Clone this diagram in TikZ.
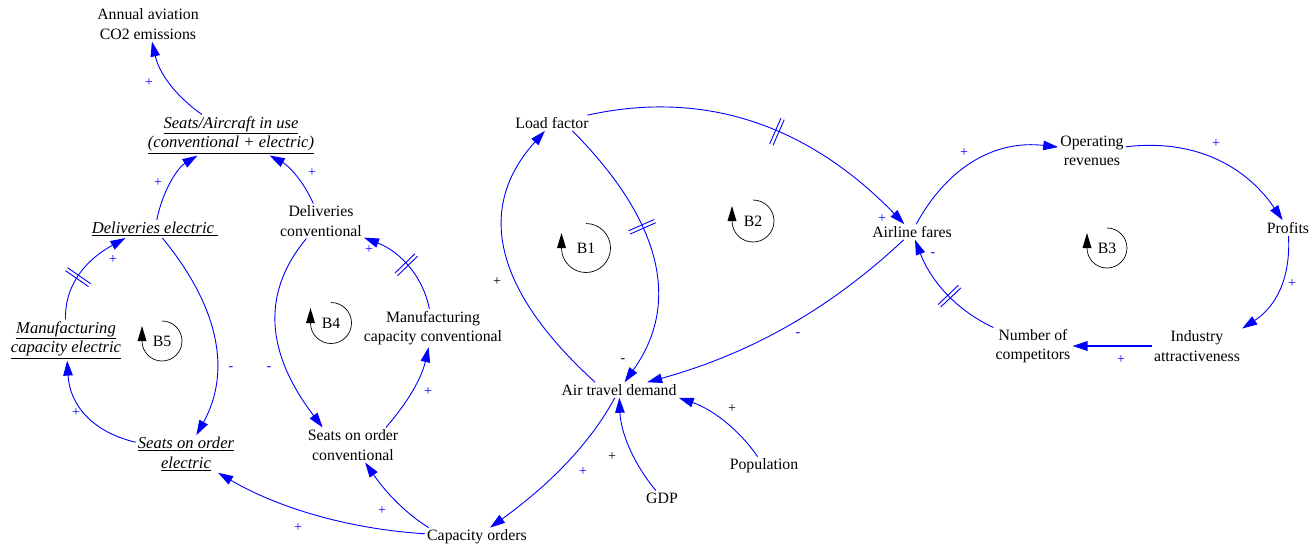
\documentclass[tikz,border=0pt]{standalone}
\usepackage{fontspec}
\setmainfont{Liberation Serif}
\usetikzlibrary{arrows.meta,decorations.markings,calc}
\definecolor{linkblue}{RGB}{0,0,255}

% loop marker: name, centre, radius, text
\newcommand\loopsign[4]{%
  \node[looptext] (#1) at (#2) {#4};
  \draw[line width=0.7pt] ($(#1)+(0,#3)$) arc[start angle=90,end angle=-180,radius=#3];
  \fill ($(#1)+(-#3-4.5,0)$) -- ($(#1)+(-#3+4.5,0)$) -- ($(#1)+(-#3,15)$) -- cycle;
}

\begin{document}
\begin{tikzpicture}[x=1pt,y=1pt,
  every node/.style={font=\fontsize{15.8}{19.5}\selectfont, inner sep=2pt, align=center},
  looptext/.style={inner sep=0pt},
  link/.style={draw=linkblue, line width=0.9pt, -{Triangle[length=15pt,width=9.5pt]}},
  delaymark/.style={postaction={decorate, decoration={markings,
      mark=at position #1 with {\draw[-, linkblue, line width=0.9pt]
        (-1.8pt,-14pt) -- (-1.8pt,14pt) (1.8pt,-14pt) -- (1.8pt,14pt);}}}},
  pol/.style={font=\fontsize{14}{16}\selectfont, text=linkblue, inner sep=0pt},
  polk/.style={pol, text=black},
  uvar/.style={font=\fontsize{16.6}{19.5}\selectfont\itshape}
]
\useasboundingbox (0,0) rectangle (1312,-546);

% variables
\node (co2) at (148,-24) {Annual aviation\\CO2 emissions};
\node[uvar] (seats) at (231,-135) {\underline{Seats/Aircraft in use}\\\underline{(conventional + electric)}};
\node[uvar] (delel) at (155,-229) {\underline{Deliveries electric\ }};
\node (delconv) at (321,-221) {Deliveries\\conventional};
\node[uvar] (mfgel) at (66,-340) {\underline{Manufacturing}\\\underline{capacity electric}};
\node (mfgconv) at (433,-328) {Manufacturing\\capacity conventional};
\node[uvar] (soel) at (186,-454) {\underline{Seats on order}\\\underline{electric}};
\node (soconv) at (353,-445) {Seats on order\\conventional};
\node (cap) at (477,-537) {Capacity orders};
\node (lf) at (552,-123) {Load factor};
\node (atd) at (619,-390) {Air travel demand};
\node (gdp) at (662,-498) {GDP};
\node (pop) at (764,-466) {Population};
\node (fares) at (912,-232) {Airline fares};
\node (oprev) at (1092,-151) {Operating\\revenues};
\node (profits) at (1288,-228) {Profits};
\node (ind) at (1197,-346) {Industry\\attractiveness};
\node (comp) at (1033,-346) {Number of\\competitors};

% causal links
\draw[link] (seats) .. controls (173.3,-94.3) and (158.7,-71.3) .. (co2);
\draw[link] (delel) .. controls (163,-189) and (178.3,-167.3) .. (seats);
\draw[link] (delconv) .. controls (304,-182.3) and (289.3,-166) .. (seats);
\draw[link, delaymark=0.42] (mfgel) .. controls (64.7,-287.7) and (82.3,-262) .. (delel.197);
\draw[link] (delel) .. controls (220.7,-309) and (230.7,-373) .. (soel);
\draw[link] (soel) .. controls (92,-432) and (69.7,-404.7) .. (mfgel);
\draw[link] (delconv) .. controls (260.7,-293.3) and (266,-353) .. (soconv.150);
\draw[link] (soconv.28) .. controls (408.3,-401.7) and (421.7,-377.7) .. (mfgconv);
\draw[link, delaymark=0.5] (mfgconv) .. controls (423.3,-277.3) and (401,-252) .. (delconv);
\draw[link] (cap) .. controls (348.7,-529) and (278.3,-508) .. (soel);
\draw[link] (cap.169) .. controls (411.3,-517) and (390,-498.3) .. (soconv);
\draw[link] (atd) .. controls (591.7,-440.7) and (553,-482.3) .. (cap);
\draw[link] (atd.162) .. controls (492.7,-289) and (476,-207.3) .. (lf);
\draw[link, delaymark=0.42] (lf.-21) .. controls (664,-223.3) and (680,-304.7) .. (atd);
\draw[link, delaymark=0.55] (lf) .. controls (705.7,-89) and (809.3,-126) .. (fares);
\draw[link] (fares) .. controls (829.5,-309.4) and (749.5,-354.1) .. (atd);
\draw[link] (gdp) .. controls (631.7,-461.3) and (620.7,-431) .. (atd);
\draw[link] (pop) .. controls (737.7,-427.7) and (710.7,-408.7) .. (atd.south east);
\draw[link] (fares) .. controls (948.2,-165.6) and (995.9,-139.9) .. (oprev);
\draw[link] (oprev) .. controls (1191.5,-138.7) and (1244.2,-163.7) .. (profits);
\draw[link] (profits) .. controls (1290.9,-278.3) and (1275.9,-306.7) .. (ind.north east);
\draw[link, line width=1.4pt] (ind) -- (comp);
\draw[link, delaymark=0.45] (comp) .. controls (956.9,-310.5) and (931.3,-281.9) .. (fares);

% polarities
\node[pol] (p1) at (149,-83) {+};
\node[pol] (p2) at (158,-183) {+};
\node[pol] (p3) at (312,-173) {+};
\node[pol] (p4) at (113,-260) {+};
\node[pol] (p5) at (369,-250) {+};
\node[pol] (p6) at (231,-369) {-};
\node[pol] (p7) at (269,-369) {-};
\node[pol] (p8) at (76,-413) {+};
\node[pol] (p9) at (428,-392) {+};
\node[pol] (p10) at (298,-528) {+};
\node[pol] (p11) at (382,-511) {+};
\node[pol] (p12) at (583,-472) {+};
\node[pol] (p13) at (882,-219) {+};
\node[pol] (p14) at (798,-335) {-};
\node[pol] (p15) at (964,-153) {+};
\node[pol] (p16) at (1216,-144) {+};
\node[pol] (p17) at (1292,-284) {+};
\node[pol] (p18) at (1121,-360) {+};
\node[pol] (p19) at (933,-255) {-};
\node[polk] (k1) at (497,-282) {+};
\node[polk] (k2) at (623,-361) {-};
\node[polk] (k3) at (612,-457) {+};
\node[polk] (k4) at (732,-409) {+};

% loop identifiers
\loopsign{b1}{586,-248}{24.5}{B1}
\loopsign{b2}{753,-221}{21}{B2}
\loopsign{b3}{1107,-248}{20}{B3}
\loopsign{b4}{331,-323}{20.5}{B4}
\loopsign{b5}{162,-341}{20}{B5}
\end{tikzpicture}
\end{document}
